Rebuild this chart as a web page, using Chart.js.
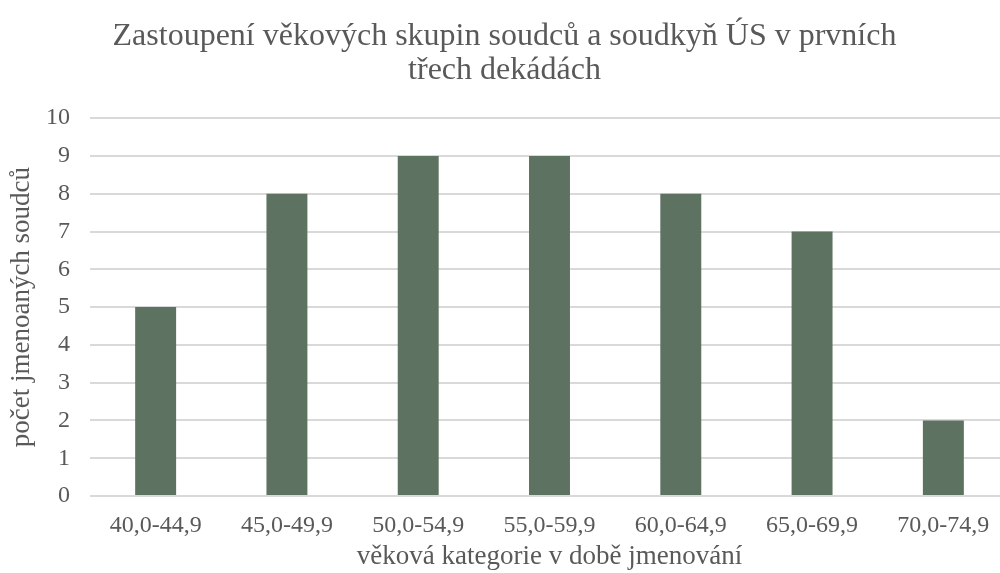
<!DOCTYPE html>
<html><head><meta charset="utf-8">
<script src="https://cdn.jsdelivr.net/npm/chart.js@4"></script>
<style>
html,body{margin:0;padding:0;background:#fff;overflow:hidden;width:1000px;height:573px;}
#wrap{width:1010px;height:573px;}
</style></head>
<body><div id="wrap"><canvas id="c" width="1010" height="573"></canvas></div>
<script>
const categories = ["40,0-44,9","45,0-49,9","50,0-54,9","55,0-59,9","60,0-64,9","65,0-69,9","70,0-74,9"];
const counts = [5, 8, 9, 9, 8, 7, 2];
const yTicks = [0,1,2,3,4,5,6,7,8,9,10];
const titleLines = ["Zastoupení věkových skupin soudců a soudkyň ÚS v prvních", "třech dekádách"];
const xTitle = "věková kategorie v době jmenování";
const yTitle = "počet jmenoaných soudců";

const serif = "'Liberation Serif', 'DejaVu Serif', serif";
const txt = "#595959";
new Chart(document.getElementById('c'), {
  type: 'bar',
  data: { labels: categories, datasets: [{ data: counts, backgroundColor: '#5E7262', borderWidth: 0, barPercentage: 1, categoryPercentage: 0.312 }] },
  options: {
    responsive: false, animation: false, devicePixelRatio: 1,
    layout: { padding: { left: 0, right: 1, top: 20, bottom: 0 } },
    plugins: {
      legend: { display: false }, tooltip: { enabled: false },
      title: { display: true, text: titleLines, color: txt, font: { family: serif, size: 32, weight: 'normal', lineHeight: 1.05 }, padding: { top: 0, bottom: 31 } }
    },
    scales: {
      x: {
        grid: { display: false }, border: { display: false },
        ticks: { color: txt, font: { family: serif, size: 24 }, padding: 7, maxRotation: 0 },
        title: { display: true, text: xTitle, color: txt, font: { family: serif, size: 27 }, padding: { top: 0, bottom: 0 } },
        afterFit: (ax) => { ax.height = 77; }
      },
      y: {
        min: 0, max: 10,
        afterBuildTicks: (ax) => { ax.ticks = yTicks.map(v => ({ value: v })); },
        grid: { color: '#d9d9d9', lineWidth: 2, drawTicks: false },
        border: { display: false },
        ticks: { color: txt, font: { family: serif, size: 24 }, padding: 20 },
        title: { display: true, text: yTitle, color: txt, font: { family: serif, size: 27 }, padding: { top: 6, bottom: 0 } },
        afterFit: (ax) => { ax.width = 90; }
      }
    }
  }
});
</script></body></html>
